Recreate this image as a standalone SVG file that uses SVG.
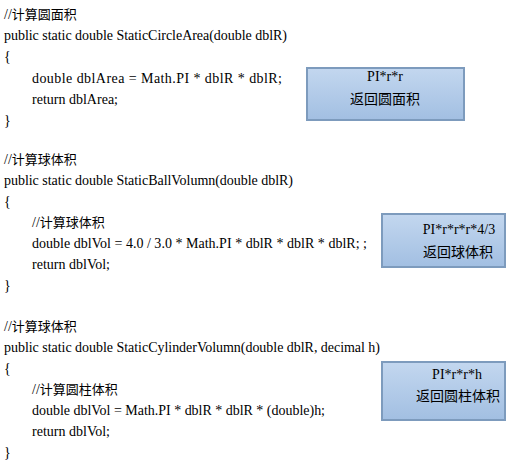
<svg xmlns="http://www.w3.org/2000/svg" width="509" height="463" viewBox="0 0 509 463">
<style>
.code{font-family:"Liberation Serif","Noto Sans CJK SC",serif;font-size:14px;fill:#000}
.cjk{font-family:"Noto Sans CJK SC",sans-serif;font-size:13px;fill:#000}
.box{fill:url(#g);stroke:#7d9bbd;stroke-width:2}
.bt{font-family:"Liberation Serif","Noto Sans CJK SC",serif;font-size:14px;fill:#000;text-anchor:middle}
.bc{font-family:"Noto Sans CJK SC",sans-serif;font-size:14px;fill:#000;text-anchor:middle}
</style>
<defs>
<linearGradient id="g" x1="0" y1="0" x2="0" y2="1">
<stop offset="0" stop-color="#c3d7ef"/>
<stop offset="1" stop-color="#a2bfe2"/>
</linearGradient>
</defs>
<rect width="509" height="463" fill="#fff"/>
<g id="code1">
<text class="code" x="4" y="19">//<tspan class="cjk">计算圆面积</tspan></text>
<text class="code" x="4" y="40" textLength="283">public static double StaticCircleArea(double dblR)</text>
<text class="code" x="4" y="61">{</text>
<text class="code" x="32" y="83" textLength="250">double dblArea = Math.PI * dblR * dblR;</text>
<text class="code" x="32" y="104" textLength="86">return dblArea;</text>
<text class="code" x="4" y="125">}</text>
</g>
<g id="code2">
<text class="code" x="4" y="164">//<tspan class="cjk">计算球体积</tspan></text>
<text class="code" x="4" y="185" textLength="289">public static double StaticBallVolumn(double dblR)</text>
<text class="code" x="4" y="206">{</text>
<text class="code" x="32" y="227">//<tspan class="cjk">计算球体积</tspan></text>
<text class="code" x="32" y="248" textLength="335">double dblVol = 4.0 / 3.0 * Math.PI * dblR * dblR * dblR; ;</text>
<text class="code" x="32" y="269" textLength="78">return dblVol;</text>
<text class="code" x="4" y="290">}</text>
</g>
<g id="code3">
<text class="code" x="4" y="331">//<tspan class="cjk">计算球体积</tspan></text>
<text class="code" x="4" y="352" textLength="376">public static double StaticCylinderVolumn(double dblR, decimal h)</text>
<text class="code" x="4" y="373">{</text>
<text class="code" x="32" y="394">//<tspan class="cjk">计算圆柱体积</tspan></text>
<text class="code" x="32" y="415" textLength="293">double dblVol = Math.PI * dblR * dblR * (double)h;</text>
<text class="code" x="32" y="436" textLength="78">return dblVol;</text>
<text class="code" x="4" y="457">}</text>
</g>
<g id="box1">
<rect class="box" x="307" y="68" width="157" height="52"/>
<text class="bt" x="385" y="81">PI*r*r</text>
<text class="bc" x="385" y="104">返回圆面积</text>
</g>
<g id="box2">
<rect class="box" x="382" y="214" width="123" height="53"/>
<text class="bt" x="459" y="234">PI*r*r*r*4/3</text>
<text class="bc" x="458" y="257">返回球体积</text>
</g>
<g id="box3">
<rect class="box" x="382" y="362" width="123" height="58"/>
<text class="bt" x="457" y="379">PI*r*r*h</text>
<text class="bc" x="458" y="401">返回圆柱体积</text>
</g>
<g id="connectors"/>
</svg>
